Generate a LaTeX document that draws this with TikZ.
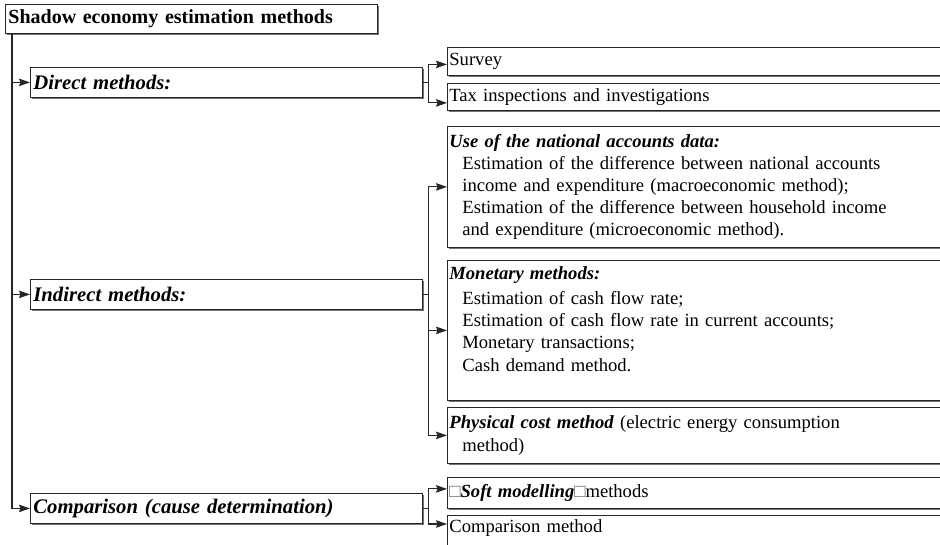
\documentclass[tikz,border=0pt]{standalone}
\usepackage{fontspec}
\setmainfont{Liberation Serif}
\usetikzlibrary{positioning,arrows.meta,shadows}
\newcommand{\txtsize}{\fontsize{18.6pt}{22.2pt}\selectfont}
\newcommand{\lblsize}{\fontsize{20.7pt}{24pt}\selectfont}
\newcommand{\ind}{\hspace*{13pt}}
\newcommand{\hd}[1]{\textbf{\textit{#1}}}
\newcommand{\qbox}{{\color{black!60}\char"25A1}}
\tikzset{
  frame/.style={draw=black!85, line width=0.8pt, fill=white, anchor=north west,
    drop shadow={shadow xshift=1.2pt, shadow yshift=-1.2pt, fill=black!55, opacity=1}},
  lbox/.style={frame, minimum width=392pt, minimum height=30pt, text width=386pt,
    inner xsep=3pt, align=left, font=\lblsize\bfseries\itshape},
  rbox/.style={frame, minimum width=520pt, text width=516pt, inner xsep=2pt,
    align=left, font=\txtsize},
  link/.style={line width=1.1pt, draw=black!85}
}
\begin{document}
\begin{tikzpicture}[x=1pt, y=1pt, >={Stealth[length=11pt,width=7.5pt,inset=1.5pt]}]
  \useasboundingbox (0,0) rectangle (940,-545);
  % main title
  \node[frame, minimum width=372pt, minimum height=29pt, text width=366pt, inner xsep=3pt,
        align=left, font=\fontsize{20pt}{23pt}\selectfont\bfseries] (title) at (5,-4)
        {Shadow economy estimation methods};

  % first level
  \node[lbox] (direct)   at (30,-67)  {Direct methods:};
  \node[lbox] (indirect) at (30,-279) {Indirect methods:};
  \node[lbox] (compare)  at (30,-493) {Comparison (cause determination)};

  % second level
  \node[rbox, minimum height=28pt] (survey) at (447,-47) {Survey};
  \node[rbox, minimum height=27pt] (tax)    at (447,-83) {Tax inspections and investigations};
  \node[rbox, minimum height=121pt] (natacc) at (447,-126)
    {\hd{Use of the national accounts data:}\\
     \ind Estimation of the difference between national accounts\\
     \ind income and expenditure (macroeconomic method);\\
     \ind Estimation of the difference between household income\\
     \ind and expenditure (microeconomic method).};
  \node[rbox, minimum height=140pt, inner ysep=2pt] (monetary) at (447,-260)
    {\hd{Monetary methods:}\\[3pt]
     \ind Estimation of cash flow rate;\\
     \ind Estimation of cash flow rate in current accounts;\\
     \ind Monetary transactions;\\
     \ind Cash demand method.\\[1pt]
     \mbox{}};
  \node[rbox, minimum height=56pt] (physical) at (447,-407)
    {\hd{Physical cost method} (electric energy consumption\\[1.5pt]
     \ind method)};
  \node[rbox, minimum height=31pt] (soft) at (447,-477)
    {\qbox\hd{Soft modelling}\qbox methods};
  \node[rbox, inner ysep=4pt, text depth=16pt] (cmethod) at (447,-515) {Comparison method};

  % trunk
  \coordinate (trunk) at ([xshift=7pt]title.south west);
  \draw[link,->] (trunk) |- (direct.west);
  \draw[link,->] (trunk) |- (indirect.west);
  \draw[link,->] (trunk) |- (compare.west);

  % direct branch
  \coordinate (dfork) at ([xshift=6pt]direct.east);
  \draw[link] (direct.east) -- (dfork);
  \draw[link,->] (dfork) |- ([yshift=-3pt]survey.west);
  \draw[link,->] (dfork) |- ([yshift=-6pt]tax.west);

  % indirect branch
  \coordinate (ifork) at ([xshift=6pt]indirect.east);
  \draw[link] (indirect.east) -- (ifork);
  \draw[link,->] (ifork) |- (natacc.west);
  \draw[link,->] (ifork) |- (monetary.west);
  \draw[link,->] (ifork) |- (physical.west);

  % comparison branch
  \coordinate (cfork) at ([xshift=6pt]compare.east);
  \draw[link] (compare.east) -- (cfork);
  \draw[link,->] (cfork) |- ([yshift=4pt]soft.west);
  \draw[link,->] (cfork) |- ([yshift=-9pt]cmethod.north west);
\end{tikzpicture}
\end{document}
